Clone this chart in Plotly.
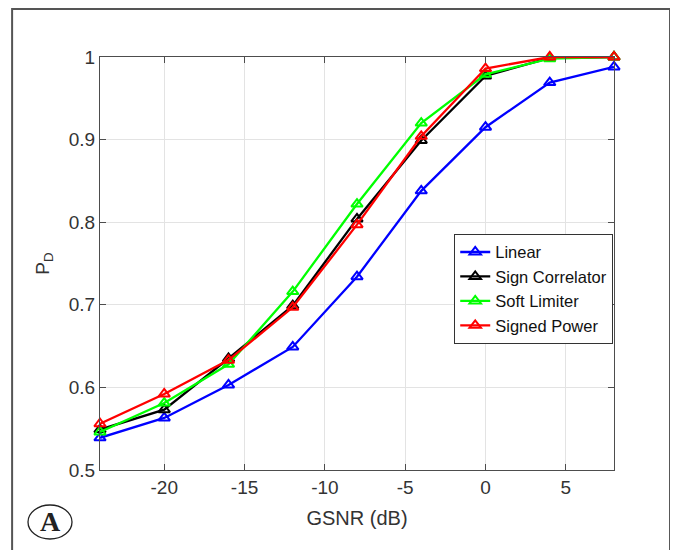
import plotly.graph_objects as go

gsnr = [-24, -20, -16, -12, -8, -4, 0, 4, 8]
linear = [0.539, 0.563, 0.603, 0.649, 0.734, 0.838, 0.915, 0.969, 0.988]
sign_corr = [0.549, 0.573, 0.635, 0.699, 0.804, 0.899, 0.977, 0.999, 1.0]
soft_lim = [0.546, 0.581, 0.628, 0.716, 0.822, 0.920, 0.979, 0.998, 1.0]
signed_pow = [0.556, 0.592, 0.633, 0.697, 0.797, 0.904, 0.986, 1.0, 1.0]

x_ticks = [-20, -15, -10, -5, 0, 5]
x_ticklabels = ["-20", "-15", "-10", "-5", "0", "5"]
y_ticks = [0.5, 0.6, 0.7, 0.8, 0.9, 1.0]
y_ticklabels = ["0.5", "0.6", "0.7", "0.8", "0.9", "1"]

series = [
    ("Linear", linear, "#0000ff"),
    ("Sign Correlator", sign_corr, "#000000"),
    ("Soft Limiter", soft_lim, "#00ff00"),
    ("Signed Power", signed_pow, "#ff0000"),
]

fig = go.Figure()
for name, vals, col in series:
    fig.add_trace(go.Scatter(
        x=gsnr, y=vals, name=name, mode="lines+markers",
        line=dict(color=col, width=2.3),
        marker=dict(symbol="triangle-up-open", size=10, color=col,
                    line=dict(width=2, color=col)),
        cliponaxis=False,
    ))

font = "Liberation Sans, Arial, sans-serif"
axis_common = dict(
    showgrid=True, gridcolor="#e3e3e3", gridwidth=1,
    showline=True, linecolor="#4d4d4d", linewidth=1, mirror="ticks",
    ticks="inside", ticklen=6, tickcolor="#4d4d4d",
    zeroline=False, tickfont=dict(family=font, size=19, color="#333333"),
)

fig.update_layout(
    width=678, height=550,
    margin=dict(l=92, r=72, t=49, b=88),
    paper_bgcolor="white", plot_bgcolor="white",
    showlegend=True,
    legend=dict(
        x=0.9985, y=0.572, xanchor="right", yanchor="top",
        bgcolor="white", bordercolor="#333333", borderwidth=1,
        font=dict(family=font, size=16.5, color="#111111"),
        tracegroupgap=0, itemwidth=30,
    ),
    xaxis=dict(range=[-24, 8], tickvals=x_ticks, ticktext=x_ticklabels,
               title=dict(text="GSNR (dB)", font=dict(family=font, size=20, color="#333333"), standoff=14),
               **axis_common),
    yaxis=dict(range=[0.5, 1.0], tickvals=y_ticks, ticktext=y_ticklabels,
               title=dict(text="P<sub>D</sub>", font=dict(family=font, size=19, color="#333333"), standoff=14),
               **axis_common),
)

# outer frame of the figure panel
fig.add_shape(type="rect", xref="paper", yref="paper",
              x0=-0.171, x1=1.109, y0=-0.25, y1=(470 - 9) / 413,
              line=dict(color="#555555", width=2), layer="below")

# circled panel label
fig.add_shape(type="circle", xref="paper", yref="paper",
              x0=(28 - 100) / 514, x1=(72 - 100) / 514,
              y0=(470 - 539) / 413, y1=(470 - 505) / 413,
              line=dict(color="#222222", width=1.3))
fig.add_annotation(text="<b>A</b>", xref="paper", yref="paper",
                   x=(50 - 100) / 514, y=(470 - 521) / 413,
                   showarrow=False, xanchor="center", yanchor="middle",
                   font=dict(family="Liberation Serif, Times New Roman, serif", size=28, color="#222222"))

fig.write_html("out.html")
